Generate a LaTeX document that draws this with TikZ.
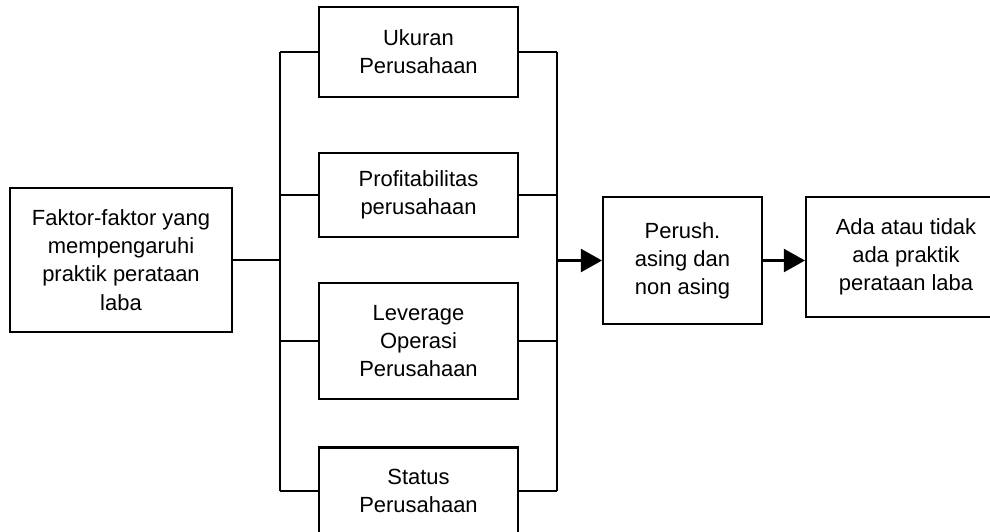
\documentclass[tikz,border=0pt]{standalone}
\usepackage{fontspec}
\setmainfont{Liberation Sans}
\usepackage{tikz}
\usetikzlibrary{arrows.meta}
\tikzstyle{edge}=[
	-,
	draw=black,
	line width=1.2pt
]
\tikzstyle{arr}=[
	edge,
	-{Triangle[length=4.2mm,width=4.6mm]}
]
\tikzstyle{box}=[
	draw=black,
	line width=1.2pt,
	inner sep=0pt,
	align=center,
	font=\fontsize{12.5}{16}\selectfont
]
\tikzstyle{mbox}=[
	box,
	minimum width=3.98cm
]

\begin{document}
\begin{tikzpicture}[x=0.02cm, y=-0.02cm]
\useasboundingbox (0,0) rectangle (990,531);

\node[box, minimum width=4.44cm, minimum height=2.88cm] (fak) at (121,260) {Faktor-faktor yang\\mempengaruhi\\praktik perataan\\laba};

\node[mbox, minimum height=1.8cm] (uk) at (418.5,52) {Ukuran\\Perusahaan};
\node[mbox, minimum height=1.68cm] (pr) at (418.5,195) {Profitabilitas\\perusahaan};
\node[mbox, minimum height=2.32cm] (lv) at (418.5,341) {Leverage\\Operasi\\Perusahaan};
\node[mbox, minimum height=1.74cm] (st) at (418.5,491) {Status\\Perusahaan};

\node[box, minimum width=3.18cm, minimum height=2.54cm] (ps) at (682.5,260.5) {Perush.\\asing dan\\non asing};
\node[box, minimum width=4.0cm, minimum height=2.4cm] (ada) at (906,257) {Ada atau tidak\\ada praktik\\perataan laba};

\coordinate (busl) at (280,0);
\coordinate (busr) at (557,0);

% left and right bus
\draw[edge] (uk.west -| busl) -- (st.west -| busl);
\draw[edge] (uk.east -| busr) -- (st.east -| busr);

\foreach \n in {uk,pr,lv,st} {
    \draw[edge] (\n.west) -- (\n.west -| busl);
    \draw[edge] (\n.east) -- (\n.east -| busr);
}

\draw[edge] (fak.east) -- (fak.east -| busl);
\draw[arr] (ps.west -| busr) -- (ps.west);
\draw[arr] (ps.east) -- (ps.east -| ada.west);

\end{tikzpicture}
\end{document}
